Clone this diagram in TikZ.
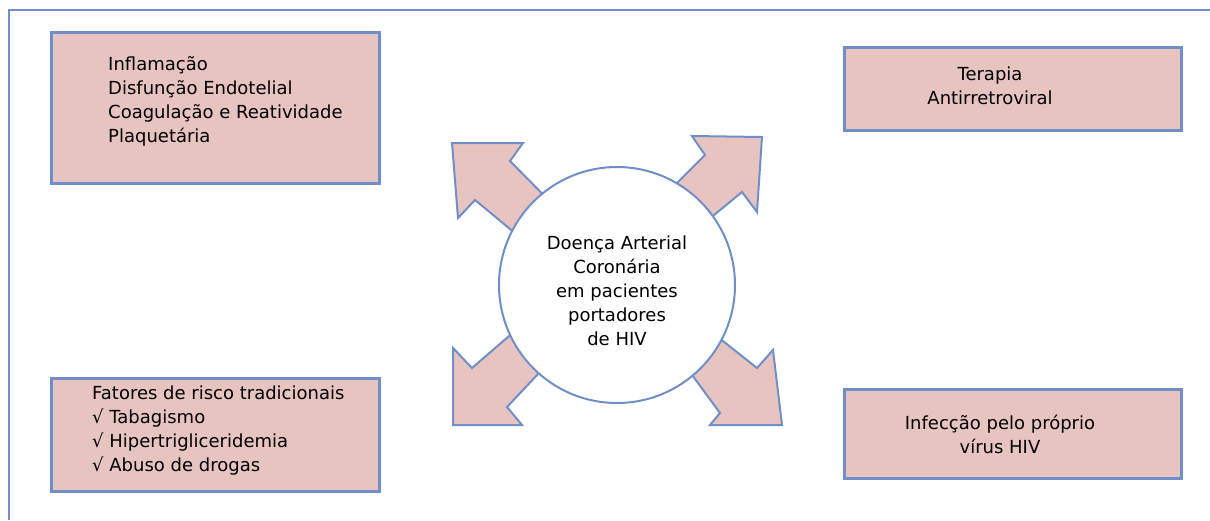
\documentclass[tikz,border=0pt]{standalone}
\usepackage{fontspec}
\setmainfont{DejaVu Sans}
\definecolor{pinkfill}{RGB}{231,196,192}
\definecolor{blueline}{RGB}{112,143,201}
\begin{document}
\begin{tikzpicture}[x=1pt,y=-1pt,
  box/.style={draw=blueline,line width=3pt,fill=pinkfill,inner sep=0pt,anchor=north west},
  txt/.style={font=\fontsize{18}{24}\selectfont,inner sep=0pt,text=black},
  blockarrow/.style={draw=blueline,line width=2pt,fill=pinkfill,line join=miter}]
\useasboundingbox (0,0) rectangle (1210,520);
\fill[white] (0,0) rectangle (1210,520);
% frame
\coordinate (fa) at (9,520);
\coordinate (fb) at (9,10);
\coordinate (fc) at (1210,10);
\draw[blueline,line width=2.5pt] (fa) -- (fb) -- (fc);
% boxes
\node[box,minimum width=328pt,minimum height=151pt] (b1) at (50,31) {};
\node[box,minimum width=337pt,minimum height=83pt] (b2) at (843,46) {};
\node[box,minimum width=328pt,minimum height=113pt] (b3) at (50,377) {};
\node[box,minimum width=337pt,minimum height=89pt] (b4) at (843,388) {};
% texts
\node[txt,align=left,anchor=west] (t1) at (108,101) {Inflamação\\Disfunção Endotelial\\Coagulação e Reatividade\\Plaquetária};
\node[txt,align=center] (t2) at (990,86) {Terapia\\Antirretroviral};
\node[txt,align=left,anchor=west] (t3) at (92,431) {Fatores de risco tradicionais\\√ Tabagismo\\√ Hipertrigliceridemia\\√ Abuso de drogas};
\node[txt,align=center] (t4) at (1000,434) {Infecção pelo próprio\\vírus HIV};
% block arrows
\draw[blockarrow] (452,143) -- (523,143) -- (510,161) -- (580,232) -- (550,262) -- (475,200) -- (458,218) -- cycle;
\draw[blockarrow] (762,137) -- (692,136) -- (705,155) -- (650,210) -- (680,243) -- (742,192) -- (757,212) -- cycle;
\draw[blockarrow] (453,425) -- (453,348) -- (472,368) -- (545,305) -- (570,340) -- (507,407) -- (522,425) -- cycle;
\draw[blockarrow] (782,425) -- (773,350) -- (757,368) -- (690,315) -- (670,345) -- (720,413) -- (710,425) -- cycle;
% circle
\node[circle,draw=blueline,line width=2pt,fill=white,minimum size=236pt,inner sep=0pt] (c) at (617,285) {};
\node[txt,align=center] (ct) at (617,291) {Doença Arterial\\Coronária\\em pacientes\\portadores\\de HIV};
\end{tikzpicture}
\end{document}
